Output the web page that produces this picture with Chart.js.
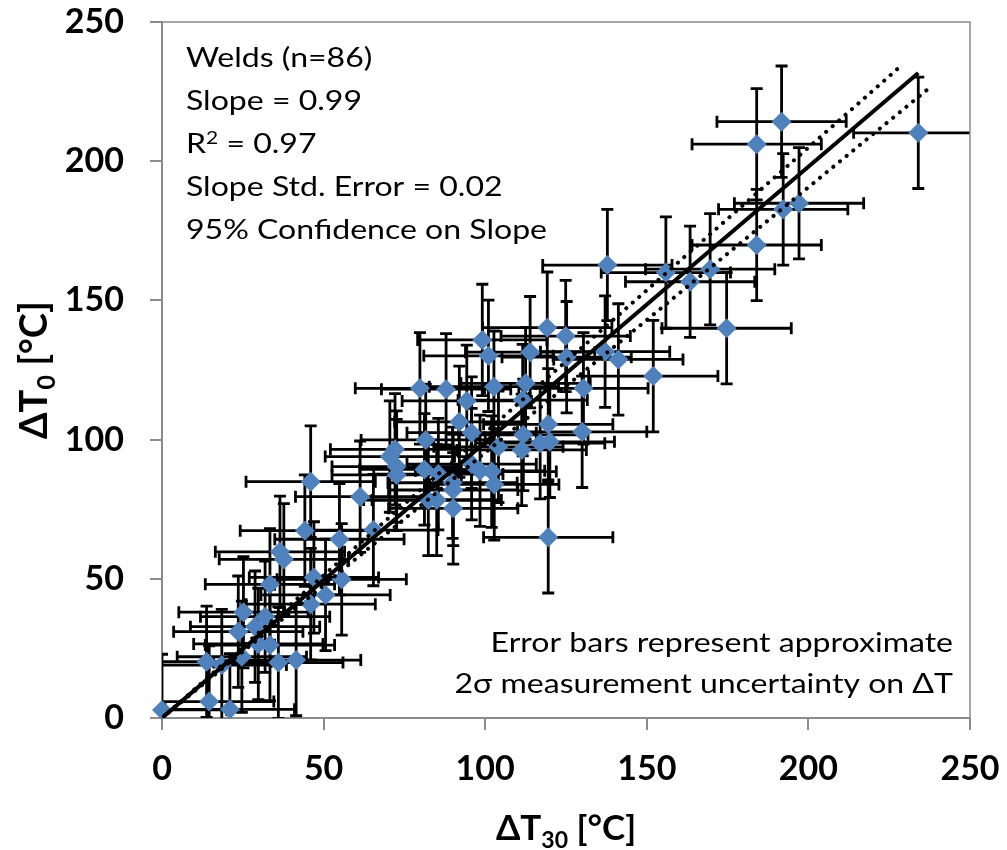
<!DOCTYPE html>
<html>
<head>
<meta charset="utf-8">
<script src="https://cdn.jsdelivr.net/npm/chart.js@4.4.1/dist/chart.umd.min.js"></script>
<style>
  html, body { margin: 0; background: #fff; }
  #wrap { width: 1007px; height: 850px; }
</style>
</head>
<body>
<div id="wrap"><canvas id="weldChart" width="1007" height="850"></canvas></div>
<script>
// ΔT30 (x) and ΔT0 (y) per weld
const dt30 = [
  0, 14.6, 21.0, 13.8, 18.5, 24.7, 36.0, 41.5, 29.8, 33.4,
  23.6, 28.8, 31.9, 25.2, 46.0, 50.6, 33.4, 47.0, 55.6, 37.7,
  36.5, 44.2, 54.9, 65.4, 61.3, 46.0, 90.1, 82.4, 85.0, 89.9,
  90.1, 102.8, 72.6, 72.6, 81.2, 85.5, 95.8, 98.4, 102.0, 72.1,
  70.5, 81.6, 104.1, 111.3, 111.8, 117.0, 120.0, 92.0, 95.8, 119.5,
  130.0, 94.3, 111.6, 79.8, 87.9, 102.7, 112.5, 130.4, 101.0, 113.9,
  125.2, 137.1, 141.2, 99.1, 119.2, 124.9, 119.5, 152.0, 174.7, 137.8,
  155.9, 163.4, 169.6, 184.0, 192.2, 197.1, 184.0, 191.7, 234.0
];
const dt0 = [
  2.9, 5.9, 3.1, 20.2, 19.0, 22.0, 19.9, 20.8, 26.6, 26.2,
  31.0, 32.8, 36.4, 38.0, 40.9, 44.2, 48.0, 50.5, 49.8, 57.0,
  59.7, 67.3, 64.2, 67.5, 79.5, 84.9, 75.3, 78.3, 78.3, 84.5,
  81.9, 83.9, 87.3, 90.3, 89.3, 87.6, 91.2, 88.8, 88.5, 96.5,
  93.9, 99.9, 97.4, 96.3, 101.7, 98.7, 99.2, 106.4, 102.5, 105.5,
  102.8, 113.9, 114.2, 118.4, 118.1, 119.0, 120.2, 118.4, 130.1, 131.4,
  129.6, 131.6, 128.8, 135.8, 140.2, 137.2, 64.9, 122.8, 140.0, 162.7,
  160.0, 156.7, 161.2, 169.9, 182.7, 184.9, 206.1, 214.2, 210.2
];
// 2σ uncertainty (half length of each error bar)
const errX = [
  20, 20, 20, 20, 20, 20, 20, 20, 20, 20,
  20, 20, 20, 20, 20, 20, 20, 20, 20, 20,
  20, 20, 20, 20, 20, 20, 20, 20, 20, 20,
  20, 20, 20, 20, 20, 20, 20, 20, 20, 20,
  20, 20, 20, 20, 20, 20, 20, 20, 20, 20,
  20, 20, 20, 20, 20, 20, 20, 20, 20, 20,
  20, 20, 20, 20, 20, 20, 20, 20, 20, 20,
  20, 20, 20, 20, 20, 20, 20, 20, 20
];
const errY = [
  20, 20, 20, 20, 20, 20, 20, 20, 20, 20,
  20, 20, 20, 20, 20, 20, 20, 20, 20, 20,
  20, 20, 20, 20, 20, 20, 20, 20, 20, 20,
  20, 20, 20, 20, 20, 20, 20, 20, 20, 20,
  20, 20, 20, 20, 20, 20, 20, 20, 20, 20,
  20, 20, 20, 20, 20, 20, 20, 20, 20, 20,
  20, 20, 20, 20, 20, 20, 20, 20, 20, 20,
  20, 20, 20, 20, 20, 20, 20, 20, 20
];

// fitted slope and its 95% confidence limits (end points)
const fitX = [0, 234];
const fitY = [0, 231.7];
const upperX = [0, 228];
const upperY = [0, 233.6];
const lowerX = [0, 237.3];
const lowerY = [0, 226.2];

const axisMin = 0;
const axisMax = 250;
const axisStep = 50;

const statsLines = [
  ['Welds (n=86)'],
  ['Slope = 0.99'],
  ['R', { sup: '2' }, ' = 0.97'],
  ['Slope Std. Error = 0.02'],
  ['95% Confidence on Slope']
];
const noteLines = [
  ['Error bars represent approximate'],
  ['2σ measurement uncertainty on ΔT']
];
const xTitle = ['ΔT', { sub: '30' }, ' [°C]'];
const yTitle = ['ΔT', { sub: '0' }, ' [°C]'];

const FONT = 'Lato, "DejaVu Sans", sans-serif';
const AXIS_GREY = '#8c8c8c';
const MARKER_BLUE = '#4f81bd';

const pts = (xs, ys) => xs.map((x, i) => ({ x, y: ys[i] }));

function segFont(seg, size, weight) {
  const small = typeof seg !== 'string';
  return `${weight} ${small ? Math.round(size * 0.66) : size}px ${FONT}`;
}

// draws a line of text made of plain / sub / sup pieces, stretched by sx
function drawRich(ctx, segs, x, y, size, weight, align, sx = 1) {
  let width = 0;
  const parts = segs.map((s) => {
    ctx.font = segFont(s, size, weight);
    const text = typeof s === 'string' ? s : (s.sub || s.sup);
    const w = ctx.measureText(text).width;
    width += w;
    return { s, text, w };
  });
  let cx = align === 'right' ? -width : align === 'center' ? -width / 2 : 0;
  ctx.save();
  ctx.translate(x, y);
  ctx.scale(sx, 1);
  ctx.textBaseline = 'alphabetic';
  ctx.textAlign = 'left';
  parts.forEach(({ s, text, w }) => {
    ctx.font = segFont(s, size, weight);
    let dy = 0;
    if (typeof s !== 'string') dy = s.sub ? size * 0.22 : -size * 0.36;
    ctx.fillText(text, cx, dy);
    cx += w;
  });
  ctx.restore();
}

function richWidth(ctx, segs, size, weight) {
  return segs.reduce((sum, s) => {
    ctx.font = segFont(s, size, weight);
    return sum + ctx.measureText(typeof s === 'string' ? s : (s.sub || s.sup)).width;
  }, 0);
}

const errorBars = {
  id: 'errorBars',
  beforeDatasetsDraw(chart) {
    const { ctx, chartArea: a, scales: { x, y } } = chart;
    const cap = 6;
    ctx.save();
    ctx.beginPath();
    ctx.rect(a.left, a.top, a.right - a.left, a.bottom - a.top);
    ctx.clip();
    ctx.strokeStyle = '#000';
    ctx.lineWidth = 2.8;
    dt30.forEach((vx, i) => {
      const px = x.getPixelForValue(vx);
      const py = y.getPixelForValue(dt0[i]);
      const x1 = x.getPixelForValue(vx - errX[i]);
      const x2 = x.getPixelForValue(vx + errX[i]);
      const y1 = y.getPixelForValue(dt0[i] - errY[i]);
      const y2 = y.getPixelForValue(dt0[i] + errY[i]);
      ctx.beginPath();
      ctx.moveTo(x1, py); ctx.lineTo(x2, py);
      ctx.moveTo(x1, py - cap); ctx.lineTo(x1, py + cap);
      ctx.moveTo(x2, py - cap); ctx.lineTo(x2, py + cap);
      ctx.moveTo(px, y1); ctx.lineTo(px, y2);
      ctx.moveTo(px - cap, y1); ctx.lineTo(px + cap, y1);
      ctx.moveTo(px - cap, y2); ctx.lineTo(px + cap, y2);
      ctx.stroke();
    });
    ctx.restore();
  }
};

const frameAndText = {
  id: 'frameAndText',
  afterDraw(chart) {
    const { ctx, chartArea: a } = chart;
    ctx.save();
    ctx.strokeStyle = AXIS_GREY;
    ctx.lineWidth = 1.5;
    ctx.beginPath();
    ctx.moveTo(a.left, a.top); ctx.lineTo(a.right, a.top); ctx.lineTo(a.right, a.bottom);
    ctx.stroke();

    ctx.fillStyle = '#000';
    const size = 26;
    const sx = 361 / richWidth(ctx, statsLines[4], size, 'normal');
    statsLines.forEach((line, i) => drawRich(ctx, line, 186, 67 + i * 43, size, 'normal', 'left', sx));
    noteLines.forEach((line, i) => drawRich(ctx, line, 953, 652 + i * 41, size, 'normal', 'right', sx));

    drawRich(ctx, xTitle, (a.left + a.right) / 2, 840, 35, 'bold', 'center');
    ctx.save();
    ctx.translate(47, (a.top + a.bottom) / 2);
    ctx.rotate(-Math.PI / 2);
    drawRich(ctx, yTitle, 0, 0, 38, 'bold', 'center');
    ctx.restore();
    ctx.restore();
  }
};

const tickFont = { family: FONT, weight: 'bold', size: 34 };
const axisBase = {
  type: 'linear',
  min: axisMin,
  max: axisMax,
  grid: { drawOnChartArea: false, drawTicks: true, tickLength: 12, color: AXIS_GREY, lineWidth: 2 },
  border: { display: true, color: AXIS_GREY, width: 2 }
};

function clearPadding(scale) {
  scale.paddingTop = 0;
  scale.paddingBottom = 0;
  scale.paddingLeft = 0;
  scale.paddingRight = 0;
}

new Chart(document.getElementById('weldChart'), {
  type: 'scatter',
  data: {
    datasets: [
      {
        label: 'Fit', type: 'line', showLine: true, data: pts(fitX, fitY),
        borderColor: '#000', borderWidth: 4, pointRadius: 0, fill: false, order: 0
      },
      {
        label: 'Upper 95%', type: 'line', showLine: true, data: pts(upperX, upperY),
        borderColor: '#000', borderWidth: 4, borderDash: [0.1, 8.5], borderCapStyle: 'round',
        pointRadius: 0, fill: false, order: 0
      },
      {
        label: 'Lower 95%', type: 'line', showLine: true, data: pts(lowerX, lowerY),
        borderColor: '#000', borderWidth: 4, borderDash: [0.1, 8.5], borderCapStyle: 'round',
        pointRadius: 0, fill: false, order: 0
      },
      {
        label: 'Welds', data: pts(dt30, dt0), pointStyle: 'rectRot', pointRadius: 10,
        backgroundColor: MARKER_BLUE, borderColor: MARKER_BLUE, borderWidth: 0, clip: false, order: 1
      }
    ]
  },
  options: {
    responsive: false,
    animation: false,
    layout: { padding: { top: 22, right: 37, left: 0, bottom: 0 } },
    plugins: { legend: { display: false }, tooltip: { enabled: false } },
    scales: {
      x: {
        ...axisBase,
        ticks: { stepSize: axisStep, padding: 19, color: '#000', font: tickFont, maxRotation: 0 },
        afterFit(scale) { scale.height = 132; clearPadding(scale); }
      },
      y: {
        ...axisBase,
        ticks: { stepSize: axisStep, padding: 26, color: '#000', font: tickFont },
        afterFit(scale) { scale.width = 162; clearPadding(scale); }
      }
    }
  },
  plugins: [errorBars, frameAndText]
});
</script>
</body>
</html>
